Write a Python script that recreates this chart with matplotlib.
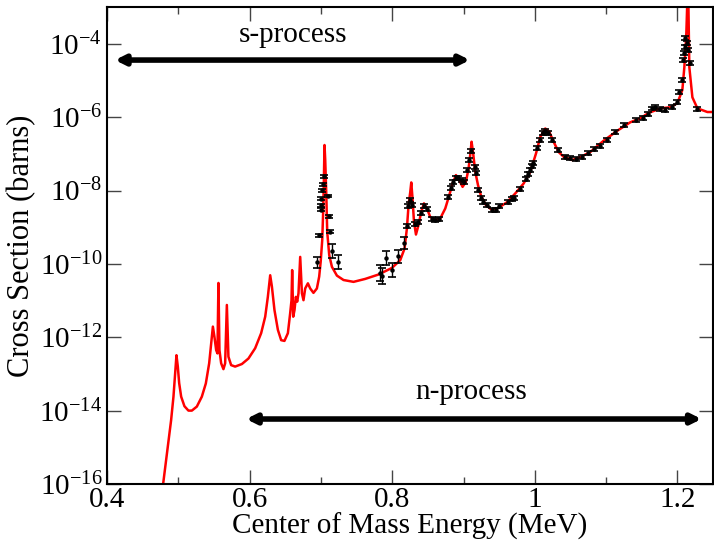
import numpy as np
import matplotlib
matplotlib.use("Agg")
import matplotlib.pyplot as plt
from matplotlib.ticker import FixedLocator, NullFormatter

plt.rcParams["font.family"] = ["Liberation Serif", "DejaVu Serif"]
plt.rcParams["mathtext.fontset"] = "custom"
plt.rcParams["mathtext.rm"] = "Liberation Serif"

# ---- R-matrix fit (red curve): energy (MeV), log10 cross section (barns)
fit_e = [0.4772, 0.4786, 0.4898, 0.4931, 0.4954, 0.4973, 0.4992, 0.5011, 0.5039, 0.5085,
         0.5141, 0.5189, 0.5259, 0.5329, 0.5385, 0.5432, 0.5460, 0.5484, 0.5506, 0.5530,
         0.5548, 0.5562, 0.5576, 0.5600, 0.5632, 0.5656, 0.5680, 0.5702, 0.5740, 0.5796,
         0.5891, 0.5983, 0.6077, 0.6161, 0.6218, 0.6255, 0.6288, 0.6312, 0.6348, 0.6396,
         0.6442, 0.6488, 0.6536, 0.6568, 0.6587, 0.6596, 0.6611, 0.6629, 0.6648, 0.6667,
         0.6685, 0.6709, 0.6733, 0.6755, 0.6779, 0.6817, 0.6849, 0.6895, 0.6943, 0.6975,
         0.6996, 0.7018, 0.7032, 0.7041, 0.7050, 0.7060, 0.7074, 0.7088, 0.7116, 0.7154,
         0.7224, 0.7317, 0.7457, 0.7621, 0.7808, 0.7996, 0.8112, 0.8173, 0.8206, 0.8229,
         0.8253, 0.8267, 0.8285, 0.8305, 0.8333, 0.8369, 0.8407, 0.8445, 0.8487, 0.8533,
         0.8604, 0.8674, 0.8744, 0.8800, 0.8846, 0.8894, 0.8940, 0.8987, 0.9034, 0.9071,
         0.9099, 0.9113, 0.9133, 0.9165, 0.9203, 0.9249, 0.9315, 0.9399, 0.9492, 0.9610,
         0.9726, 0.9843, 0.9937, 1.0017, 1.0077, 1.0147, 1.0203, 1.0264, 1.0334, 1.0404,
         1.0526, 1.0639, 1.0779, 1.0961, 1.1158, 1.1340, 1.1481, 1.1593, 1.1761, 1.1902,
         1.2000, 1.2070, 1.2098, 1.2126, 1.2140, 1.2147, 1.2154, 1.2168, 1.2211, 1.2281,
         1.2421, 1.2505]
fit_log = [-16.50, -16.00, -14.26, -13.62, -12.98, -12.49, -12.80, -13.25, -13.62, -13.88,
           -14.00, -14.00, -13.89, -13.62, -13.26, -12.71, -12.17, -11.71, -11.99, -12.35,
           -12.44, -10.52, -12.35, -12.71, -12.87, -12.71, -11.12, -12.53, -12.76, -12.80,
           -12.73, -12.58, -12.30, -11.89, -11.44, -10.90, -10.31, -10.62, -11.26, -11.80,
           -12.08, -12.10, -11.89, -11.35, -10.99, -10.17, -11.44, -11.26, -10.90, -11.03,
           -10.80, -9.81, -10.80, -10.99, -10.67, -10.53, -10.67, -10.79, -10.67, -10.35,
           -9.95, -9.35, -8.53, -7.72, -6.76, -7.17, -8.04, -9.13, -9.76, -10.08,
           -10.32, -10.44, -10.49, -10.41, -10.29, -10.11, -9.90, -9.58, -9.03, -8.40,
           -8.04, -7.78, -8.22, -8.85, -9.20, -8.94, -8.58, -8.35, -8.49, -8.72,
           -8.81, -8.76, -8.49, -8.13, -7.81, -7.58, -7.72, -7.90, -7.76, -7.40,
           -6.95, -6.67, -6.95, -7.49, -7.85, -8.17, -8.40, -8.53, -8.47, -8.32,
           -8.08, -7.81, -7.49, -6.99, -6.54, -6.31, -6.40, -6.67, -6.95, -7.08,
           -7.17, -7.09, -6.95, -6.65, -6.37, -6.14, -6.03, -5.89, -5.76, -5.73,
           -5.62, -5.26, -4.64, -3.71, -2.81, -2.50, -2.81, -4.64, -5.46, -5.76,
           -5.86, -5.86]

# ---- measured data: energy (MeV), log10 cross section, error (decades)
data_e = [0.6947, 0.6975, 0.7004, 0.7004, 0.7004, 0.7018, 0.7032, 0.7046, 0.7102, 0.7116,
          0.7130, 0.7158, 0.7242, 0.7832, 0.7860, 0.7916, 0.8000, 0.8084, 0.8168, 0.8211,
          0.8225, 0.8253, 0.8281, 0.8323, 0.8365, 0.8407, 0.8449, 0.8491, 0.8561, 0.8604,
          0.8660, 0.8786, 0.8828, 0.8856, 0.8898, 0.8926, 0.8982, 0.9011, 0.9053, 0.9081,
          0.9109, 0.9165, 0.9179, 0.9207, 0.9249, 0.9277, 0.9333, 0.9404, 0.9460, 0.9502,
          0.9628, 0.9684, 0.9712, 0.9796, 0.9881, 0.9909, 0.9937, 0.9965, 0.9979, 1.0035,
          1.0077, 1.0119, 1.0147, 1.0189, 1.0246, 1.0330, 1.0428, 1.0498, 1.0582, 1.0667,
          1.0751, 1.0835, 1.0919, 1.1018, 1.1130, 1.1256, 1.1425, 1.1523, 1.1593, 1.1649,
          1.1691, 1.1761, 1.1832, 1.1930, 1.2000, 1.2028, 1.2070, 1.2084, 1.2098, 1.2112,
          1.2140, 1.2112, 1.2154, 1.2182, 1.2281]
data_log = [-9.95, -9.22, -8.53, -8.40, -8.23, -7.99, -7.83, -7.61, -8.15, -8.70,
            -9.13, -9.65, -9.95, -10.25, -10.33, -9.84, -10.17, -9.79, -9.43, -8.97,
            -8.43, -8.26, -8.40, -8.92, -8.86, -8.62, -8.43, -8.51, -8.78, -8.81,
            -8.78, -8.18, -7.94, -7.77, -7.66, -7.66, -7.72, -7.77, -7.44, -7.17,
            -6.93, -7.36, -7.53, -7.99, -8.21, -8.32, -8.40, -8.53, -8.53, -8.43,
            -8.32, -8.23, -8.21, -7.96, -7.69, -7.55, -7.44, -7.34, -7.25, -6.85,
            -6.63, -6.44, -6.38, -6.44, -6.63, -6.90, -7.09, -7.12, -7.14, -7.09,
            -6.98, -6.87, -6.79, -6.63, -6.41, -6.22, -6.08, -6.03, -5.92, -5.76,
            -5.73, -5.78, -5.81, -5.73, -5.59, -5.32, -4.99, -4.45, -4.26, -4.09,
            -3.98, -3.85, -4.17, -4.53, -5.78]
data_err = [0.15, 0.04, 0.04, 0.04, 0.04, 0.04, 0.04, 0.04, 0.04, 0.04,
            0.04, 0.18, 0.19, 0.21, 0.22, 0.19, 0.19, 0.18, 0.17, 0.05,
            0.05, 0.05, 0.05, 0.05, 0.05, 0.05, 0.05, 0.05, 0.05, 0.05,
            0.05, 0.05, 0.05, 0.05, 0.05, 0.05, 0.05, 0.05, 0.05, 0.05,
            0.05, 0.05, 0.05, 0.05, 0.05, 0.05, 0.05, 0.05, 0.05, 0.05,
            0.05, 0.05, 0.05, 0.05, 0.05, 0.05, 0.05, 0.05, 0.05, 0.05,
            0.05, 0.05, 0.05, 0.05, 0.05, 0.05, 0.05, 0.05, 0.05, 0.05,
            0.05, 0.05, 0.05, 0.05, 0.05, 0.05, 0.05, 0.05, 0.05, 0.05,
            0.05, 0.05, 0.05, 0.05, 0.05, 0.05, 0.05, 0.05, 0.05, 0.05,
            0.05, 0.05, 0.05, 0.05, 0.05]

# ---- process ranges (MeV) and the height of their arrows (barns)
s_range = (0.411, 0.909)
s_level = 3.6e-5
n_range = (0.595, 1.234)
n_level = 5.9e-15

fit_e = np.asarray(fit_e)
fit_y = 10.0 ** np.asarray(fit_log)
d_e = np.asarray(data_e)
d_log = np.asarray(data_log)
d_err = np.asarray(data_err)
d_y = 10.0 ** d_log
d_lo = d_y - 10.0 ** (d_log - d_err)
d_hi = 10.0 ** (d_log + d_err) - d_y

fig = plt.figure(figsize=(7.14, 5.46), dpi=100)
ax = fig.add_axes([0.150, 0.1136, 0.8486, 0.8734])

ax.plot(fit_e, fit_y, "-", color="red", lw=1.8, zorder=2, solid_joinstyle="round")
ax.errorbar(d_e, d_y, yerr=[d_lo, d_hi], fmt="o", ms=2.2, color="black", ecolor="black",
            elinewidth=1.0, capsize=2.6, capthick=1.2, zorder=3)

ax.set_yscale("log")
ax.set_xlim(0.4, 1.25)
ax.set_ylim(1e-16, 1e-3)

yt = [10.0 ** k for k in range(-16, -3, 2)]
ax.yaxis.set_major_locator(FixedLocator(yt))
ax.yaxis.set_minor_locator(FixedLocator([]))
ax.yaxis.set_minor_formatter(NullFormatter())
ax.set_yticklabels([rf"$\mathregular{{10^{{{k}}}}}$" for k in range(-16, -3, 2)])
ax.set_xticks([0.4, 0.6, 0.8, 1.0, 1.2])
ax.set_xticklabels(["0.4", "0.6", "0.8", "1", "1.2"])
ax.xaxis.set_minor_locator(FixedLocator([0.5, 0.7, 0.9, 1.1]))

ax.tick_params(which="both", direction="in", top=True, right=True, labelsize=21,
               width=1.0, color="#444444")
ax.tick_params(which="major", length=10)
ax.tick_params(which="minor", length=5)
ax.tick_params(axis="x", pad=2)
for sp in ax.spines.values():
    sp.set_linewidth(1.5)

ax.set_xlabel("Center of Mass Energy (MeV)", fontsize=21, labelpad=0)
ax.set_ylabel("Cross Section (barns)", fontsize=22, labelpad=2)

arrow = dict(arrowstyle="<|-|>", color="black", lw=4, mutation_scale=14, shrinkA=0, shrinkB=0)
ax.annotate("", xy=(s_range[0], s_level), xytext=(s_range[1], s_level), arrowprops=arrow)
ax.annotate("", xy=(n_range[0], n_level), xytext=(n_range[1], n_level), arrowprops=arrow)
ax.text(0.661, 1.7e-4, "s-process", fontsize=21, ha="center", va="center")
ax.text(0.911, 3.2e-14, "n-process", fontsize=21, ha="center", va="center")

fig.savefig("out.png", dpi=100)
